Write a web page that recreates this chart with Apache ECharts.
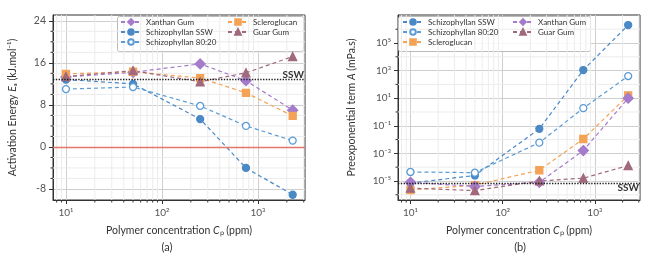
<!DOCTYPE html>
<html>
<head>
<meta charset="utf-8">
<script src="https://cdn.jsdelivr.net/npm/echarts@6/dist/echarts.min.js"></script>
<style>
  html, body { margin: 0; padding: 0; background: #fff; }
  #chart { width: 650px; height: 259px; }
</style>
</head>
<body>
<div id="chart"></div>
<script>
// polymer concentration (ppm)
const conc = [10, 50, 250, 750, 2300];

// (a) activation energy Ea (kJ/mol)
const eaXanthan = [13.3, 14.2, 15.8, 12.6, 7.0];
const eaSchizoSSW = [12.8, 12.0, 5.3, -4.0, -9.1];
const eaSchizo8020 = [11.0, 11.4, 7.8, 4.0, 1.2];
const eaSclero = [13.9, 14.3, 13.1, 10.3, 5.9];
const eaGuar = [13.4, 14.5, 12.4, 14.1, 17.2];
const eaSSW = 12.9;

// (b) preexponential term A (mPa.s)
const aSchizoSSW = [7e-6, 2.5e-5, 6e-2, 1.1e3, 2e6];
const aSchizo8020 = [4.5e-5, 4e-5, 6e-3, 1.9, 400];
const aSclero = [2.2e-6, 5e-6, 6e-5, 1.1e-2, 16];
const aXanthan = [8e-6, 4e-6, 8e-6, 1.6e-3, 10];
const aGuar = [3e-6, 2e-6, 1e-5, 1.6e-5, 1.3e-4];
const aSSW = 7e-6;

const xTicks = [1, 2, 3];
const eaTicks = [-8, 0, 8, 16, 24];
const aTicks = [-5, -3, -1, 1, 3, 5];

const FONT = 'Lato';
const colors = {
  blue: '#4a89c6',
  orange: '#f4a255',
  purple: '#a57bcb',
  guar: '#a06a7c'
};

const lg = Math.log10;
const supMap = { '-': '⁻', '0': '⁰', '1': '¹', '2': '²', '3': '³', '4': '⁴', '5': '⁵', '6': '⁶', '7': '⁷', '8': '⁸', '9': '⁹' };
const pow10 = (v) => '10' + String(v).split('').map(c => supMap[c]).join('');

const xMin = 0.865, xMax = 3.49;
const minorX = [];
[1, 10, 100, 1000].forEach(d => {
  for (let k = 2; k <= 9; k++) {
    const v = lg(k * d);
    if (v > xMin && v < xMax) minorX.push(v);
  }
});

const styles = {
  'Xanthan Gum': { symbol: 'diamond', symbolSize: 10, color: colors.purple, fill: colors.purple },
  'Schizophyllan SSW': { symbol: 'circle', symbolSize: 7, color: colors.blue, fill: colors.blue },
  'Schizophyllan 80:20': { symbol: 'circle', symbolSize: 7, color: '#5b9bd5', fill: '#fff' },
  'Scleroglucan': { symbol: 'rect', symbolSize: 7, color: colors.orange, fill: colors.orange },
  'Guar Gum': { symbol: 'triangle', symbolSize: 8, color: colors.guar, fill: colors.guar }
};

const makeLine = (name, gi, vals, logY) => {
  const s = styles[name];
  return {
    name: name,
    type: 'line',
    xAxisIndex: gi,
    yAxisIndex: gi,
    data: conc.map((c, i) => [lg(c), logY ? lg(vals[i]) : vals[i]]),
    symbol: s.symbol,
    symbolSize: s.symbolSize,
    color: s.color,
    lineStyle: { color: s.color, width: 1.2, type: [4, 3] },
    itemStyle: { color: s.fill, borderColor: s.color, borderWidth: 1.3 },
    z: 3
  };
};

// minor ticks + minor grid, drawn through the axis scales
const minorSeries = (gi, dir, vals, other) => ({
  type: 'custom',
  xAxisIndex: gi,
  yAxisIndex: gi,
  silent: true,
  z: 1,
  data: vals.map(v => dir === 'x' ? [v, other] : [other, v]),
  renderItem: (params, api) => {
    const p = api.coord([api.value(0), api.value(1)]);
    const cs = params.coordSys;
    const grid = dir === 'x'
      ? { x1: p[0], y1: cs.y, x2: p[0], y2: cs.y + cs.height }
      : { x1: cs.x, y1: p[1], x2: cs.x + cs.width, y2: p[1] };
    const tick = dir === 'x'
      ? { x1: p[0], y1: cs.y + cs.height, x2: p[0], y2: cs.y + cs.height + 2.5 }
      : { x1: cs.x - 2.5, y1: p[1], x2: cs.x, y2: p[1] };
    return {
      type: 'group',
      children: [
        { type: 'line', shape: grid, style: { stroke: '#ececec', lineWidth: 1 } },
        { type: 'line', shape: tick, style: { stroke: '#333', lineWidth: 1 } }
      ]
    };
  }
});

const nameRich = {
  n: { fontFamily: FONT, fontSize: 10.5, color: '#333' },
  i: { fontFamily: FONT, fontSize: 10.5, color: '#333', fontStyle: 'italic' }
};

const xAxisFor = (gi) => ({
  type: 'value',
  gridIndex: gi,
  min: xMin,
  max: xMax,
  name: '{n|Polymer concentration }{i|C}{n|ₚ (ppm)}',
  nameLocation: 'middle',
  nameGap: 25,
  nameTextStyle: { rich: nameRich },
  axisLine: { show: true, onZero: false, lineStyle: { color: '#333', width: 1 } },
  axisTick: { show: true, length: 4, customValues: xTicks, lineStyle: { color: '#333' } },
  axisLabel: { customValues: xTicks, formatter: pow10, color: '#555', fontFamily: FONT, fontSize: 10, margin: 8 },
  splitLine: { show: true, lineStyle: { color: '#cfcfcf' } }
});

const minorEa = [-6, -4, -2, 2, 4, 6, 10, 12, 14, 18, 20, 22];
const minorA = [-6, -4, -2, 0, 2, 4, 6];

const legendText = { fontFamily: FONT, fontSize: 8, color: '#333' };
const legendBase = {
  orient: 'vertical', top: 18, padding: 0, itemGap: 2,
  itemWidth: 20, itemHeight: 7, selectedMode: false, textStyle: legendText
};

const chart = echarts.init(document.getElementById('chart'));
chart.setOption({
  animation: false,
  textStyle: { fontFamily: FONT },
  grid: [
    { left: 53, right: 345, top: 15, bottom: 59, show: true, borderColor: '#333', borderWidth: 1 },
    { left: 398, right: 10, top: 15, bottom: 59, show: true, borderColor: '#333', borderWidth: 1 }
  ],
  xAxis: [xAxisFor(0), xAxisFor(1)],
  yAxis: [
    {
      type: 'value',
      gridIndex: 0,
      min: -10.1,
      max: 25.1,
      name: '{n|Activation Energy }{i|E}{n|ₐ (kJ.mol⁻¹)}',
      nameLocation: 'middle',
      nameGap: 35,
      nameTextStyle: { rich: nameRich },
      axisLine: { show: true, onZero: false, lineStyle: { color: '#333' } },
      axisTick: { show: true, length: 4, customValues: eaTicks, lineStyle: { color: '#333' } },
      axisLabel: { customValues: eaTicks, color: '#555', fontFamily: FONT, fontSize: 10.5, margin: 7 },
      splitLine: { show: true, lineStyle: { color: '#cfcfcf' } }
    },
    {
      type: 'value',
      gridIndex: 1,
      min: -6.38,
      max: 7.03,
      name: '{n|Preexponential term }{i|A}{n| (mPa.s)}',
      nameLocation: 'middle',
      nameGap: 41,
      nameTextStyle: { rich: nameRich },
      axisLine: { show: true, onZero: false, lineStyle: { color: '#333' } },
      axisTick: { show: true, length: 4, customValues: aTicks, lineStyle: { color: '#333' } },
      axisLabel: { customValues: aTicks, formatter: pow10, color: '#555', fontFamily: FONT, fontSize: 10, margin: 7 },
      splitLine: { show: true, lineStyle: { color: '#cfcfcf' } }
    }
  ],
  legend: [
    Object.assign({ data: ['Xanthan Gum', 'Schizophyllan SSW', 'Schizophyllan 80:20'], left: 120 }, legendBase),
    Object.assign({ data: ['Scleroglucan', 'Guar Gum'], left: 227 }, legendBase),
    Object.assign({ data: ['Schizophyllan SSW', 'Schizophyllan 80:20', 'Scleroglucan'], left: 402 }, legendBase),
    Object.assign({ data: ['Xanthan Gum', 'Guar Gum'], left: 512 }, legendBase)
  ],
  graphic: [
    { type: 'rect', z: 1, shape: { x: 117.5, y: 16.5, width: 186, height: 35, r: 2 },
      style: { fill: 'rgba(255,255,255,0.85)', stroke: '#bbb', lineWidth: 1 } },
    { type: 'rect', z: 1, shape: { x: 398.5, y: 16.5, width: 192, height: 35, r: 2 },
      style: { fill: 'rgba(255,255,255,0.85)', stroke: '#bbb', lineWidth: 1 } },
    { type: 'text', style: { text: '(a)', x: 167, y: 247, align: 'center', verticalAlign: 'middle', font: '11px ' + FONT, fill: '#333' } },
    { type: 'text', style: { text: '(b)', x: 520, y: 247, align: 'center', verticalAlign: 'middle', font: '11px ' + FONT, fill: '#333' } }
  ],
  series: [
    minorSeries(0, 'x', minorX, -10.1),
    minorSeries(0, 'y', minorEa, xMin),
    minorSeries(1, 'x', minorX, -6.38),
    minorSeries(1, 'y', minorA, xMin),
    Object.assign(makeLine('Xanthan Gum', 0, eaXanthan, false), {
      markLine: {
        silent: true,
        symbol: 'none',
        data: [
          { yAxis: eaSSW, lineStyle: { type: 'dotted', color: '#222', width: 1.4 },
            label: { show: true, formatter: 'SSW', position: 'insideEndTop', distance: [1, -1], color: '#333', fontWeight: 'bold', fontSize: 10, fontFamily: FONT } },
          { yAxis: 0, lineStyle: { type: 'solid', color: '#e4766c', width: 1.3 }, label: { show: false } }
        ]
      }
    }),
    makeLine('Schizophyllan SSW', 0, eaSchizoSSW, false),
    makeLine('Schizophyllan 80:20', 0, eaSchizo8020, false),
    makeLine('Scleroglucan', 0, eaSclero, false),
    makeLine('Guar Gum', 0, eaGuar, false),
    Object.assign(makeLine('Schizophyllan SSW', 1, aSchizoSSW, true), {
      markLine: {
        silent: true,
        symbol: 'none',
        data: [
          { yAxis: lg(aSSW), lineStyle: { type: 'dotted', color: '#222', width: 1.4 },
            label: { show: true, formatter: 'SSW', position: 'insideEndBottom', distance: [1, 0], color: '#333', fontWeight: 'bold', fontSize: 10, fontFamily: FONT } }
        ]
      }
    }),
    makeLine('Schizophyllan 80:20', 1, aSchizo8020, true),
    makeLine('Scleroglucan', 1, aSclero, true),
    makeLine('Xanthan Gum', 1, aXanthan, true),
    makeLine('Guar Gum', 1, aGuar, true)
  ]
});
</script>
</body>
</html>
